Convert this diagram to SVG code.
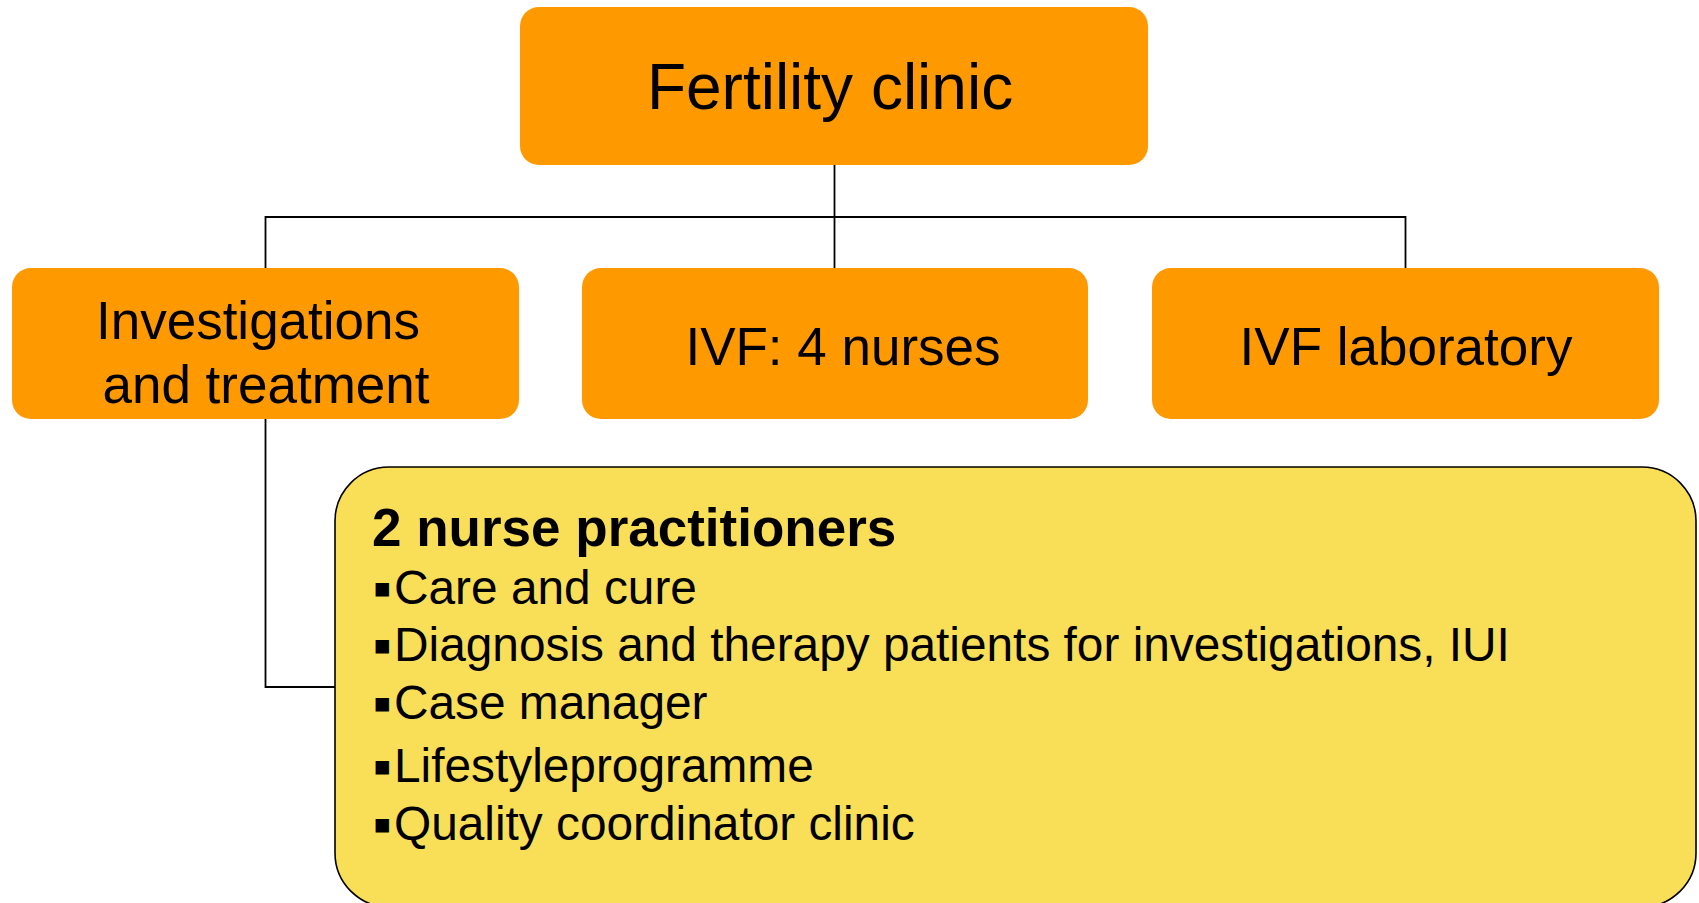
<svg xmlns="http://www.w3.org/2000/svg" width="1699" height="903" viewBox="0 0 1699 903">
<style>
.org{fill:#FF9900;}
.yel{fill:#F9DF58;stroke:#000;stroke-width:1.6;}
.t{font-family:"Liberation Sans",Arial,sans-serif;fill:#000;}
.ln{stroke:#000;stroke-width:1.8;fill:none;}
.bul{font-family:"DejaVu Sans",sans-serif;font-size:27px;}
</style>
<rect width="1699" height="903" fill="#fff"/>
<g id="connectors">
<path class="ln" d="M834.5 165 V268"/>
<path class="ln" d="M265.5 268 V217 H1405.5 V268"/>
<path class="ln" d="M265.5 419 V687 H335"/>
</g>
<g id="fertility-clinic">
<rect class="org" x="520" y="7" width="628" height="158" rx="19"/>
<text class="t" x="830" y="109" font-size="64" text-anchor="middle">Fertility clinic</text>
</g>
<g id="investigations">
<rect class="org" x="12" y="268" width="507" height="151" rx="19"/>
<text class="t" font-size="53" text-anchor="middle"><tspan x="258" y="339">Investigations</tspan><tspan x="266" y="403">and treatment</tspan></text>
</g>
<g id="ivf-nurses">
<rect class="org" x="582" y="268" width="506" height="151" rx="19"/>
<text class="t" x="843" y="365" font-size="53" text-anchor="middle">IVF: 4 nurses</text>
</g>
<g id="ivf-lab">
<rect class="org" x="1152" y="268" width="507" height="151" rx="19"/>
<text class="t" x="1406" y="365" font-size="53" text-anchor="middle">IVF laboratory</text>
</g>
<g id="nurse-practitioners">
<rect class="yel" x="335" y="467" width="1361" height="440" rx="54"/>
<text class="t" x="372" y="546" font-size="53" font-weight="bold">2 nurse practitioners</text>
<text class="t" font-size="47.8"><tspan class="bul" x="373" y="597">▪</tspan><tspan x="394" y="604">Care and cure</tspan></text>
<text class="t" font-size="47.8"><tspan class="bul" x="373" y="654">▪</tspan><tspan x="394" y="661">Diagnosis and therapy patients for investigations, IUI</tspan></text>
<text class="t" font-size="47.8"><tspan class="bul" x="373" y="712">▪</tspan><tspan x="394" y="719">Case manager</tspan></text>
<text class="t" font-size="47.8"><tspan class="bul" x="373" y="775">▪</tspan><tspan x="394" y="782">Lifestyleprogramme</tspan></text>
<text class="t" font-size="47.8"><tspan class="bul" x="373" y="833">▪</tspan><tspan x="394" y="840">Quality coordinator clinic</tspan></text>
</g>
</svg>
